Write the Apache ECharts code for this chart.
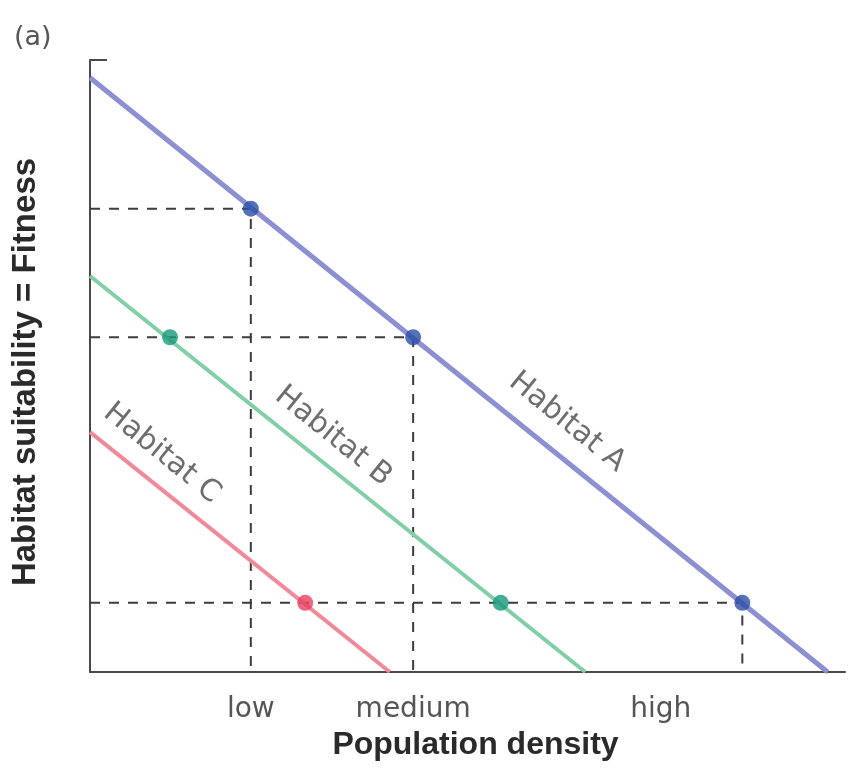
<!DOCTYPE html>
<html>
<head>
<meta charset="utf-8">
<script src="https://cdn.jsdelivr.net/npm/echarts@6/dist/echarts.min.js"></script>
<style>
  html, body { margin: 0; padding: 0; background: #ffffff; }
  #chart { width: 852px; height: 770px; }
</style>
</head>
<body>
<div id="chart"></div>
<script>
// ---- data (abstract units: x 0..10 density, y 0..10 fitness) ----
const habitatNames = ['Habitat A', 'Habitat B', 'Habitat C'];
const habitatA = [[0, 9.71], [9.77, 0]];
const habitatB = [[0, 6.47], [6.56, 0]];
const habitatC = [[0, 3.92], [3.97, 0]];
const pointsA = [[2.13, 7.57], [4.28, 5.47], [8.64, 1.13]];
const pointsB = [[1.06, 5.47], [5.44, 1.13]];
const pointsC = [[2.85, 1.13]];
const labelPosA = [6.32, 4.08];
const labelPosB = [3.22, 3.85];
const labelPosC = [0.95, 3.57];
const tickLabels = ['low', 'medium', 'high'];
const tickValues = [2.13, 4.28, 7.56];
const xTitle = 'Population density';
const yTitle = 'Habitat suitability = Fitness';
const panelTag = '(a)';

const colA = '#8d8fd3', colB = '#80cfa6', colC = '#f2899a';
const dotA = '#2b4ea6', dotB = '#16987a', dotC = '#e9405f';
const gray = '#555555';

const chart = echarts.init(document.getElementById('chart'), null, { renderer: 'canvas' });

// dashed guides: from y-axis to each Habitat A point, then down to x-axis
const guideSeries = pointsA.map(p => ({
  type: 'line',
  data: [[0, p[1]], [p[0], p[1]], [p[0], 0]],
  symbol: 'none',
  silent: true,
  lineStyle: { color: '#3d3d3d', width: 2, type: [10, 9] },
  z: 1
}));

function habLine(data, color, width) {
  return { type: 'line', data: data, symbol: 'none', silent: true,
           lineStyle: { color: color, width: width }, z: 2 };
}
function dots(data, color) {
  return { type: 'scatter', data: data, symbolSize: 16, silent: true,
           itemStyle: { color: color }, z: 4 };
}
function hLabel(pos, text) {
  return {
    type: 'scatter', data: [pos], symbolSize: 1, silent: true,
    itemStyle: { color: 'rgba(0,0,0,0)' },
    label: {
      show: true, position: 'inside', formatter: text, rotate: -39,
      fontFamily: 'DejaVu Sans', fontSize: 30, color: '#4a4a4a',
      align: 'center', verticalAlign: 'middle'
    },
    z: 5
  };
}

const option = {
  backgroundColor: '#ffffff',
  animation: false,
  title: {
    text: panelTag, left: 9, top: 19,
    textStyle: { fontFamily: 'DejaVu Sans', fontSize: 27, fontWeight: 'normal', color: gray }
  },
  grid: { left: 90, top: 60, right: 7, bottom: 98 },
  xAxis: {
    type: 'value', min: 0, max: 10,
    axisLine: { show: true, lineStyle: { color: '#4a4a4a', width: 2 } },
    axisTick: { show: false },
    splitLine: { show: false },
    axisLabel: {
      show: true, customValues: tickValues, margin: 24,
      formatter: v => { const i = tickValues.findIndex(t => Math.abs(t - v) < 1e-6); return i >= 0 ? tickLabels[i] : ''; },
      fontFamily: 'DejaVu Sans', fontSize: 28, color: gray
    },
    name: xTitle, nameLocation: 'middle', nameGap: 47,
    nameTextStyle: { fontFamily: 'Liberation Sans', fontWeight: 'bold', fontSize: 32, color: '#2a2a2a', padding: [0, 0, 0, 16] }
  },
  yAxis: {
    type: 'value', min: 0, max: 10,
    axisLine: { show: true, lineStyle: { color: '#4a4a4a', width: 2 } },
    axisTick: { show: true, inside: true, length: 17, customValues: [10], lineStyle: { color: '#4a4a4a', width: 2 } },
    splitLine: { show: false },
    axisLabel: { show: false },
    name: yTitle, nameLocation: 'middle', nameGap: 48,
    nameTextStyle: { fontFamily: 'Liberation Sans', fontWeight: 'bold', fontSize: 33, color: '#2a2a2a', padding: [0, 12, 0, 0] }
  },
  series: [
    ...guideSeries,
    habLine(habitatA, colA, 5),
    habLine(habitatB, colB, 4),
    habLine(habitatC, colC, 4),
    dots(pointsA, dotA),
    dots(pointsB, dotB),
    dots(pointsC, dotC),
    hLabel(labelPosA, habitatNames[0]),
    hLabel(labelPosB, habitatNames[1]),
    hLabel(labelPosC, habitatNames[2])
  ]
};
chart.setOption(option);
</script>
</body>
</html>
